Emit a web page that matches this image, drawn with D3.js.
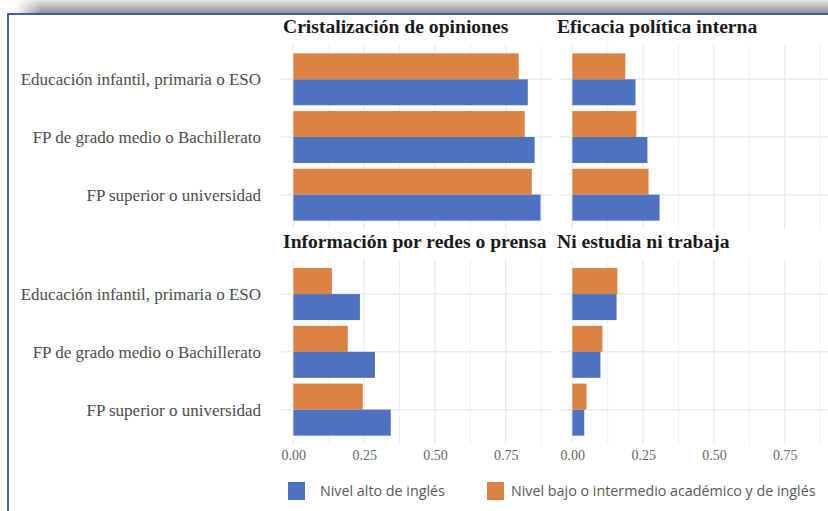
<!DOCTYPE html>
<html><head><meta charset="utf-8">
<script src="https://cdn.jsdelivr.net/npm/d3@7"></script>
<style>html,body{margin:0;padding:0;background:#fff;}svg{display:block;}</style>
</head><body>
<svg id="chart" width="828" height="511"></svg>
<script>
const categories = ["Educación infantil, primaria o ESO", "FP de grado medio o Bachillerato", "FP superior o universidad"];
const facets = ["Cristalización de opiniones", "Eficacia política interna", "Información por redes o prensa", "Ni estudia ni trabaja"];
const seriesNames = ["Nivel alto de inglés", "Nivel bajo o intermedio académico y de inglés"];
// values per facet, per category
const altoCristalizacion = [0.828, 0.852, 0.873];
const bajoCristalizacion = [0.796, 0.817, 0.842];
const altoEficacia = [0.223, 0.265, 0.308];
const bajoEficacia = [0.187, 0.226, 0.269];
const altoInformacion = [0.235, 0.288, 0.344];
const bajoInformacion = [0.136, 0.192, 0.245];
const altoNiNi = [0.156, 0.099, 0.042];
const bajoNiNi = [0.159, 0.106, 0.050];
const xTicks = [0, 0.25, 0.5, 0.75];
const xMinor = [0.125, 0.375, 0.625, 0.875];

const facetData = [
  {name: facets[0], alto: altoCristalizacion, bajo: bajoCristalizacion, col: 0, row: 0},
  {name: facets[1], alto: altoEficacia, bajo: bajoEficacia, col: 1, row: 0},
  {name: facets[2], alto: altoInformacion, bajo: bajoInformacion, col: 0, row: 1},
  {name: facets[3], alto: altoNiNi, bajo: bajoNiNi, col: 1, row: 1}
];
const colors = ["#4e72bd", "#dc8244"];

const svg = d3.select("#chart");
const defs = svg.append("defs");
const g1 = defs.append("linearGradient").attr("id","shadowV").attr("x1",0).attr("y1",0).attr("x2",0).attr("y2",1);
g1.append("stop").attr("offset","0%").attr("stop-color","#e4e4e4");
g1.append("stop").attr("offset","70%").attr("stop-color","#a6a6a6");
g1.append("stop").attr("offset","100%").attr("stop-color","#8f8f8f");
const g2 = defs.append("linearGradient").attr("id","fadeH").attr("x1",0).attr("y1",0).attr("x2",1).attr("y2",0);
g2.append("stop").attr("offset","0%").attr("stop-color","#fff").attr("stop-opacity",1);
g2.append("stop").attr("offset","100%").attr("stop-color","#fff").attr("stop-opacity",0);

// shadow and frame
svg.append("rect").attr("x",14).attr("y",0).attr("width",814).attr("height",14).attr("fill","url(#shadowV)");
svg.append("rect").attr("x",14).attr("y",0).attr("width",28).attr("height",14).attr("fill","url(#fadeH)");
svg.append("rect").attr("x",8).attr("y",14).attr("width",830).attr("height",510).attr("fill","#fff")
  .attr("stroke","#2f4fae").attr("stroke-width",1.8);

const colX = [[281, 553], [560, 832]];
const rowY = [[44.7, 229.3], [259.4, 444.3]];
const titleX = [283, 557];
const xDomain = [-0.0437, 0.917];

facetData.forEach(f => {
  const x = d3.scaleLinear().domain(xDomain).range(colX[f.col]);
  const y = d3.scalePoint().domain(categories).range(rowY[f.row]).padding(0.6);
  const step = y.step();
  const bh = step * 0.45;
  const g = svg.append("g");
  g.selectAll(".vmin").data(xMinor).enter().append("line")
    .attr("x1", d => x(d)).attr("x2", d => x(d)).attr("y1", rowY[f.row][0]).attr("y2", rowY[f.row][1])
    .attr("stroke", "#efefef").attr("stroke-width", 1);
  g.selectAll(".vmaj").data(xTicks).enter().append("line")
    .attr("x1", d => x(d)).attr("x2", d => x(d)).attr("y1", rowY[f.row][0]).attr("y2", rowY[f.row][1])
    .attr("stroke", "#ebebeb").attr("stroke-width", 1.3);
  g.selectAll(".hmaj").data(categories).enter().append("line")
    .attr("x1", colX[f.col][0]).attr("x2", colX[f.col][1]).attr("y1", d => y(d)).attr("y2", d => y(d))
    .attr("stroke", "#ebebeb").attr("stroke-width", 1.5);
  g.selectAll(".bajo").data(categories).enter().append("rect")
    .attr("x", x(0)).attr("y", d => y(d) - bh).attr("height", bh)
    .attr("width", (d, i) => x(f.bajo[i]) - x(0)).attr("fill", colors[1]);
  g.selectAll(".alto").data(categories).enter().append("rect")
    .attr("x", x(0)).attr("y", d => y(d)).attr("height", bh)
    .attr("width", (d, i) => x(f.alto[i]) - x(0)).attr("fill", colors[0]);
  svg.append("text").attr("x", titleX[f.col]).attr("y", rowY[f.row][0] - 11.5)
    .attr("font-family", "Liberation Serif, serif").attr("font-weight", "bold").attr("font-size", 19.6)
    .attr("fill", "#1a1a1a").text(f.name);
  if (f.col === 0) {
    svg.selectAll(null).data(categories).enter().append("text")
      .attr("x", 261).attr("y", d => y(d)).attr("dy", "0.35em").attr("text-anchor", "end")
      .attr("font-family", "Liberation Serif, serif").attr("font-size", 17).attr("fill", "#4d4d4d")
      .text(d => d);
  }
  if (f.row === 1) {
    const ax = svg.append("g").attr("transform", `translate(0,${rowY[1][1] + 3})`)
      .call(d3.axisBottom(x).tickValues(xTicks).tickFormat(d3.format(".2f")).tickSize(0));
    ax.select(".domain").remove();
    ax.selectAll("text").attr("font-family", "Liberation Serif, serif").attr("font-size", 14).attr("fill", "#666");
  }
});

// legend
const leg = svg.append("g");
const legItems = [{x: 288, tx: 320, c: colors[0], t: seriesNames[0]}, {x: 487, tx: 511, c: colors[1], t: seriesNames[1]}];
legItems.forEach(l => {
  leg.append("rect").attr("x", l.x).attr("y", 482).attr("width", 17).attr("height", 18).attr("fill", l.c);
  leg.append("text").attr("x", l.tx).attr("y", 496).attr("font-family", "Open Sans, sans-serif")
    .attr("font-size", 14.3).attr("fill", "#595959").text(l.t);
});
</script>
</body></html>
